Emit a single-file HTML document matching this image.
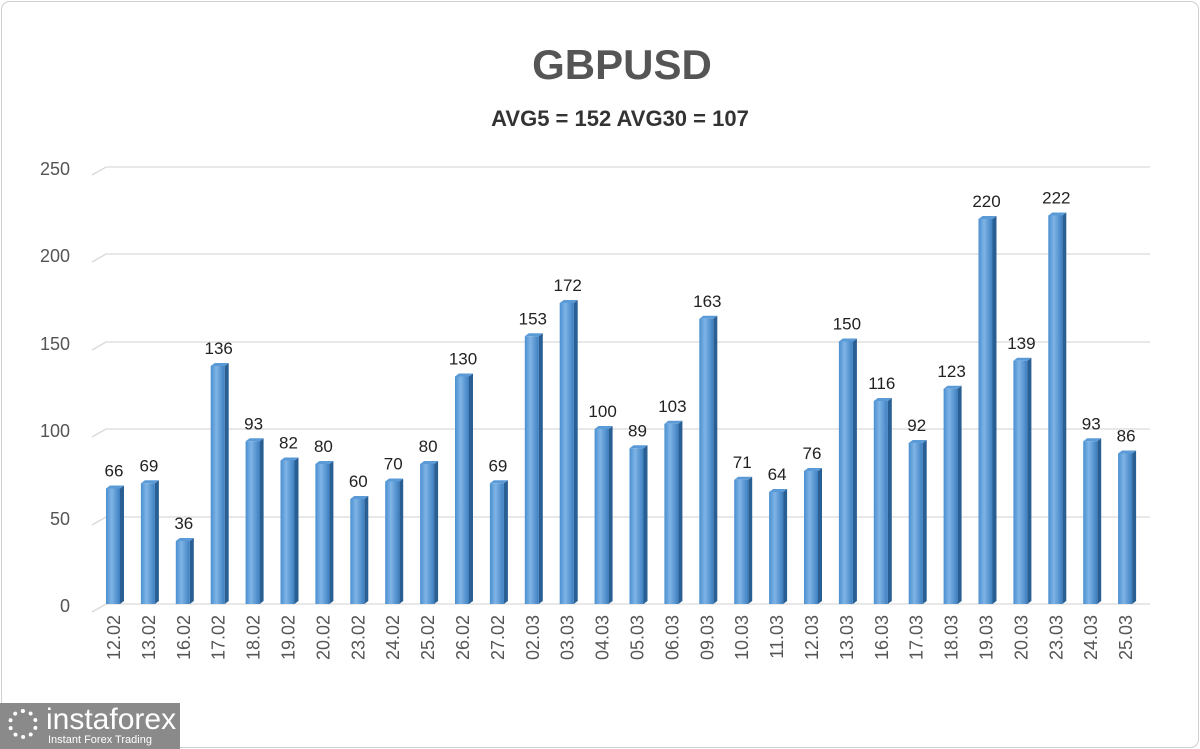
<!DOCTYPE html>
<html><head><style>
body{margin:0;background:#fff;}
svg{display:block;font-family:"Liberation Sans",sans-serif;}
</style></head><body>
<svg width="1200" height="749" viewBox="0 0 1200 749">
<defs>
<linearGradient id="g" x1="0" x2="1"><stop offset="0" stop-color="#4a8fd0"/><stop offset="0.4" stop-color="#7fb4e6"/><stop offset="1" stop-color="#3d7fc0"/></linearGradient>
</defs>
<rect x="1.5" y="1.5" width="1197" height="746" rx="8" fill="#fff" stroke="#d0d0d0"/>
<text x="622" y="79" text-anchor="middle" font-size="42" font-weight="bold" fill="#555">GBPUSD</text>
<text x="620" y="126" text-anchor="middle" font-size="22" font-weight="bold" fill="#333">AVG5 = 152 AVG30 = 107</text>
<g stroke="#d9d9d9" stroke-width="1.3" fill="none">
<path d="M92,612 L106,604 H1150"/><path d="M92,525 L106,517 H1150"/><path d="M92,437 L106,429 H1150"/>
<path d="M92,350 L106,342 H1150"/><path d="M92,262 L106,254 H1150"/><path d="M92,175 L106,167 H1150"/>
</g>
<g font-size="18" fill="#555" text-anchor="end">
<text x="70" y="612">0</text><text x="70" y="525">50</text><text x="70" y="437">100</text>
<text x="70" y="350">150</text><text x="70" y="262">200</text><text x="70" y="175">250</text>
</g>
<g id="bars"></g>
</svg>
<div style="position:absolute;left:0;top:703px;width:180px;height:46px;background:#8a8a8a;color:#fff;font-family:'Liberation Sans',sans-serif;">
<div style="position:absolute;left:8px;top:6px;width:30px;height:30px;border-radius:50%;border:4px dotted #fff;box-sizing:border-box;"></div>
<div style="position:absolute;left:46px;top:0px;font-size:30px;line-height:34px;">instaforex</div>
<div style="position:absolute;left:48px;top:31px;font-size:11px;">Instant Forex Trading</div>
</div>
<script>
var v=[66,69,36,136,93,82,80,60,70,80,130,69,153,172,100,89,103,163,71,64,76,150,116,92,123,220,139,222,93,86];
var d=["12.02","13.02","16.02","17.02","18.02","19.02","20.02","23.02","24.02","25.02","26.02","27.02","02.03","03.03","04.03","05.03","06.03","09.03","10.03","11.03","12.03","13.03","16.03","17.03","18.03","19.03","20.03","23.03","24.03","25.03"];
var s="";
for(var i=0;i<30;i++){var c=113+i*34.9,t=604-v[i]*1.75,l=c-7;
s+='<path d="M'+(l+14)+','+t+' l4,-3 V601 l-4,3z" fill="#2a5f94"/>';
s+='<path d="M'+l+','+t+' l4,-3 h14 l-4,3z" fill="#5a9ad6"/>';
s+='<rect x="'+l+'" y="'+t+'" width="14" height="'+(604-t)+'" fill="url(#g)"/>';
s+='<text x="'+(c+1)+'" y="'+(t-12)+'" text-anchor="middle" font-size="17" fill="#222">'+v[i]+'</text>';
s+='<text transform="translate('+(c+7)+',615) rotate(-90)" text-anchor="end" font-size="18" fill="#555">'+d[i]+'</text>';}
document.getElementById("bars").innerHTML=s;
</script>
</body></html>
